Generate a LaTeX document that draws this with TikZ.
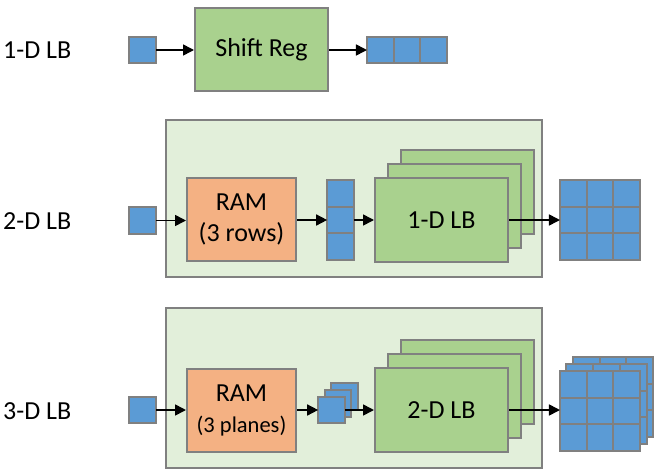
\documentclass[tikz,border=0pt]{standalone}
\usepackage{fontspec}
\setmainfont{Carlito}
\usetikzlibrary{arrows.meta}
\definecolor{cblue}{HTML}{5B9BD5}
\definecolor{cgreen}{HTML}{A9D18E}
\definecolor{corange}{HTML}{F4B183}
\definecolor{cpale}{HTML}{E2EFDA}
\definecolor{cgray}{HTML}{808080}
\tikzset{
  sq/.style={draw=cgray, fill=cblue, line width=2pt, minimum width=26.67pt, minimum height=26.67pt, inner sep=0pt, outer sep=0pt},
  greenbox/.style={draw=cgray, fill=cgreen, line width=2pt, minimum width=133pt, minimum height=83pt, inner sep=0pt, font=\fontsize{26}{30}\selectfont},
  rambox/.style={draw=cgray, fill=corange, line width=2pt, minimum width=109pt, minimum height=83pt, inner sep=0pt, align=center, font=\fontsize{26}{31}\selectfont},
  outerbox/.style={draw=cgray, fill=cpale, line width=2pt, inner sep=0pt, minimum width=376pt},
  rowlabel/.style={anchor=west, inner sep=0pt, font=\fontsize{26}{30}\selectfont},
  arr/.style={line width=1.6pt, -{Triangle[length=11pt,width=11pt]}}
}
\begin{document}
\begin{tikzpicture}[x=1pt,y=-1pt]
\useasboundingbox (0,0) rectangle (665,474);
% ---- row 1
\node[rowlabel] (l1) at (3,50) {1-D LB};
\node[sq] (in1) at (142.5,50) {};
\node[greenbox] (sr) at (261.5,49.5) {Shift Reg};
\foreach \i in {0,1,2} {
  \node[sq] (o1-\i) at (380.33+26.67*\i,50) {};
}
\draw[arr] (in1.east) -- (in1.east -| sr.west);
\draw[arr] (sr.east |- o1-0.west) -- (o1-0.west);
% ---- row 2
\node[outerbox, minimum height=157pt] (box2) at (354,198.5) {};
\node[rowlabel] (l2) at (3,221) {2-D LB};
\node[sq] (in2) at (142.5,220.5) {};
\node[rambox] (ram2) at (241.5,219.5) {RAM\\(3 rows)};
\foreach \i in {0,1,2} {
  \node[sq] (c2-\i) at (340.5,193.33+26.67*\i) {};
}
\node[greenbox, minimum height=84pt] (lbb2) at (467.5,191.5) {};
\node[greenbox, minimum height=84pt] (lbm2) at (454.5,205.5) {};
\node[greenbox, minimum height=84pt] (lbf2) at (441.5,220) {1-D LB};
\foreach \i in {0,1,2} {
  \foreach \j in {0,1,2} {
    \node[sq] (g2-\i-\j) at (573.33+26.67*\i,193.33+26.67*\j) {};
  }
}
\draw[arr] (in2.east) -- (in2.east -| ram2.west);
\draw[arr] (ram2.east |- c2-1.west) -- (c2-1.west);
\draw[arr] (c2-1.east) -- (c2-1.east -| lbf2.west);
\draw[arr] (lbf2.east |- g2-0-1.west) -- (g2-0-1.west);
% ---- row 3
\node[outerbox, minimum height=160pt] (box3) at (354,388) {};
\node[rowlabel] (l3) at (3,411) {3-D LB};
\node[sq] (in3) at (142.5,410) {};
\node[rambox] (ram3) at (241.5,410.5) {RAM\\{\fontsize{22.5}{26}\selectfont (3 planes)}};
\node[sq] (pb3) at (344.5,396.5) {};
\node[sq] (pm3) at (338,403.5) {};
\node[sq] (pf3) at (331.5,410) {};
\node[greenbox, minimum height=84pt] (lbb3) at (467.5,382) {};
\node[greenbox, minimum height=84pt] (lbm3) at (454.5,396) {};
\node[greenbox, minimum height=84pt] (lbf3) at (441.5,410) {2-D LB};
\foreach \k/\dx/\dy in {b/13/-14, m/6.5/-7, f/0/0} {
  \foreach \i in {0,1,2} {
    \foreach \j in {0,1,2} {
      \node[sq] (g3\k-\i-\j) at (573.33+\dx+26.67*\i,384.33+\dy+26.67*\j) {};
    }
  }
}
\draw[arr] (in3.east) -- (in3.east -| ram3.west);
\draw[arr] (ram3.east |- pf3.west) -- (pf3.west);
\draw[arr] (pf3.east) -- (pf3.east -| lbf3.west);
\draw[arr] (lbf3.east) -- (lbf3.east -| g3f-0-1.west);
\end{tikzpicture}
\end{document}
